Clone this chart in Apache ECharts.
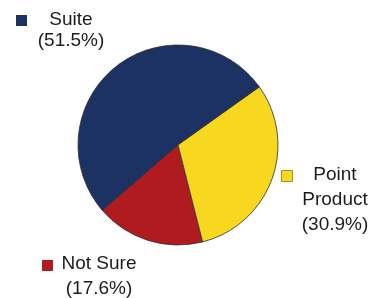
<!DOCTYPE html>
<html>
<head>
<meta charset="utf-8">
<script src="https://cdn.jsdelivr.net/npm/echarts@6/dist/echarts.min.js"></script>
<style>
  html, body { margin: 0; padding: 0; background: #fff; }
  #chart { width: 371px; height: 298px; }
</style>
</head>
<body>
<div id="chart"></div>
<script>
// slices, counter-clockwise from the upper right
const names = ['Suite', 'Not Sure', 'Point Product']
const labelNames = ['Suite', 'Not Sure', 'Point\nProduct']
const shares = [51.5, 17.6, 30.9]
const colors = ['#1b3263', '#b01b20', '#f7d81f']

const FONT = "'Liberation Sans', Arial, sans-serif"
const TEXT = '#1c1c1c'

// where each text block and its square sit
const labelPos = [
  { x: 71, y: 9, lineHeight: 21.5 },
  { x: 99, y: 251.5, lineHeight: 25 },
  { x: 335, y: 162, lineHeight: 25 }
]
const squarePos = [
  { left: 16, top: 15 },
  { left: 42, top: 260 },
  { left: 281, top: 170 }
]

const chart = echarts.init(document.getElementById('chart'), null, { renderer: 'canvas' })

const legends = names.map((n, i) => ({
  data: [n],
  left: squarePos[i].left,
  top: squarePos[i].top,
  padding: 0,
  icon: 'rect',
  itemWidth: 11,
  itemHeight: 11,
  selectedMode: false,
  formatter: () => '',
  itemStyle: i === 2
    ? { borderColor: '#a88e1c', borderWidth: 1 }
    : { borderWidth: 0 }
}))

chart.setOption({
  animation: false,
  backgroundColor: '#fff',
  textStyle: { fontFamily: FONT, color: TEXT },
  legend: legends,
  series: [{
    type: 'pie',
    center: [178, 145],
    radius: [0, 100],
    startAngle: 35.5,
    clockwise: false,
    itemStyle: { borderColor: '#2e2e2e', borderWidth: 0.8 },
    label: {
      show: true,
      position: 'outside',
      fontFamily: FONT,
      fontSize: 19,
      color: TEXT,
      align: 'center',
      overflow: 'none',
      formatter: p => labelNames[p.dataIndex] + '\n(' + shares[p.dataIndex].toFixed(1) + '%)'
    },
    labelLine: { show: false },
    labelLayout: p => ({
      x: labelPos[p.dataIndex].x,
      y: labelPos[p.dataIndex].y,
      align: 'center',
      verticalAlign: 'top',
      hideOverlap: false
    }),
    emphasis: { disabled: true },
    data: names.map((n, i) => ({
      name: n,
      value: shares[i],
      itemStyle: { color: colors[i] },
      label: { lineHeight: labelPos[i].lineHeight }
    }))
  }]
})
</script>
</body>
</html>
